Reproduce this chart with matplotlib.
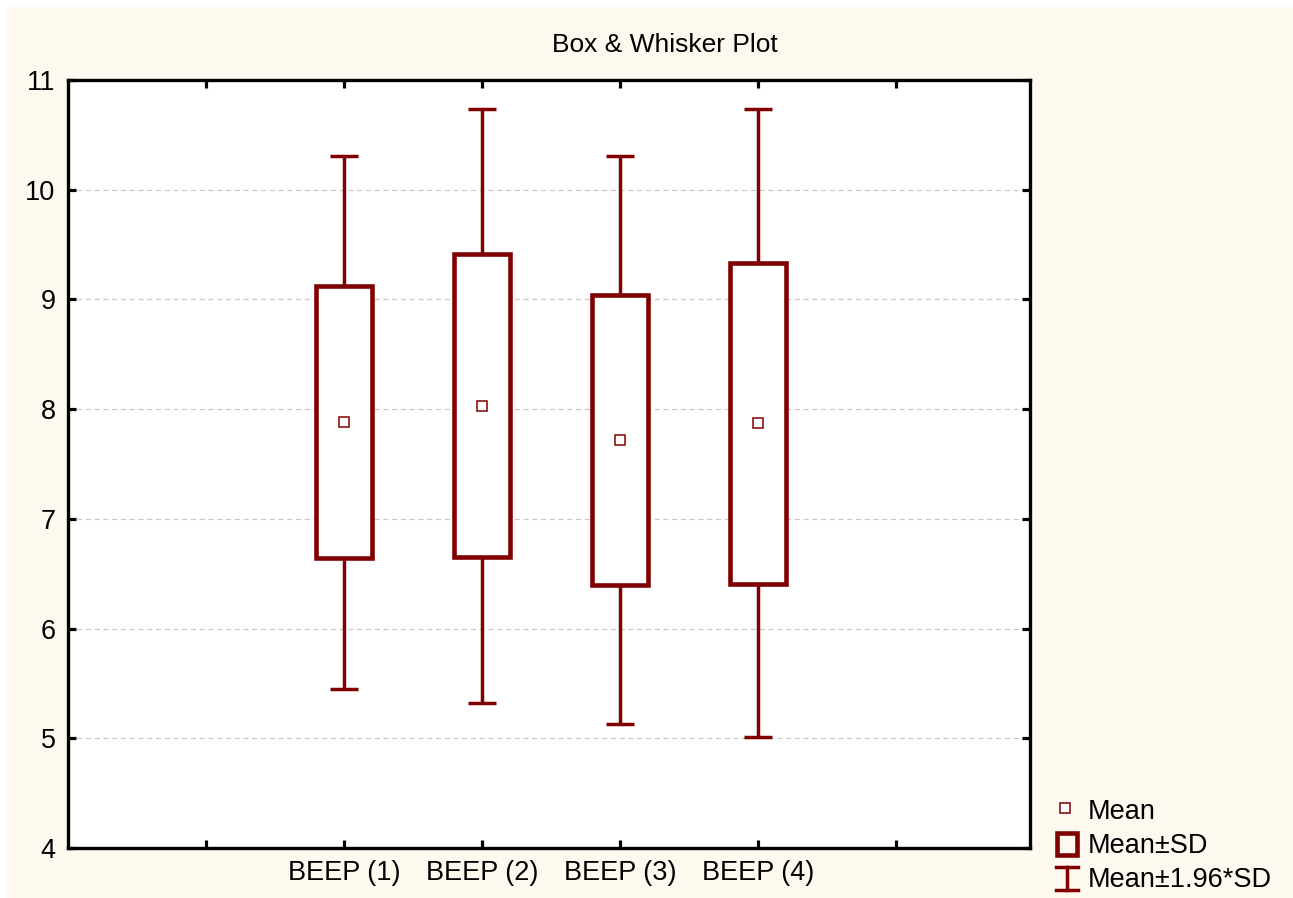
import matplotlib
matplotlib.use("Agg")
import matplotlib.pyplot as plt
from matplotlib.patches import Rectangle
from matplotlib.lines import Line2D

# Summary statistics per variable
categories = ["BEEP (1)", "BEEP (2)", "BEEP (3)", "BEEP (4)"]
means = [7.88, 8.03, 7.72, 7.87]
sds = [1.24, 1.38, 1.32, 1.46]
z_factor = 1.96

DARK_RED = "#800000"
CREAM = "#FDF9EF"
W, H, DPI = 1293, 898, 100

plt.rcParams["font.family"] = ["Liberation Sans", "DejaVu Sans"]

fig = plt.figure(figsize=(W / DPI, H / DPI), dpi=DPI, facecolor=CREAM)
ax = fig.add_axes([68 / W, 1 - 848 / H, (1030 - 68) / W, (848 - 80) / H])
ax.set_facecolor("white")

positions = list(range(1, len(categories) + 1))
box_w = 0.40
cap_w = 0.20
WH_LW = 2.5
BOX_LW = 3.3

for x, m, s in zip(positions, means, sds):
    lo_box, hi_box = m - s, m + s
    lo_wh, hi_wh = m - z_factor * s, m + z_factor * s
    # whiskers
    ax.plot([x, x], [hi_box, hi_wh], color=DARK_RED, lw=WH_LW, zorder=3,
            solid_capstyle="butt")
    ax.plot([x, x], [lo_wh, lo_box], color=DARK_RED, lw=WH_LW, zorder=3,
            solid_capstyle="butt")
    ax.plot([x - cap_w / 2, x + cap_w / 2], [hi_wh, hi_wh], color=DARK_RED,
            lw=WH_LW, zorder=3, solid_capstyle="butt")
    ax.plot([x - cap_w / 2, x + cap_w / 2], [lo_wh, lo_wh], color=DARK_RED,
            lw=WH_LW, zorder=3, solid_capstyle="butt")
    # box
    ax.add_patch(Rectangle((x - box_w / 2, lo_box), box_w, hi_box - lo_box,
                           facecolor="white", edgecolor=DARK_RED, lw=BOX_LW,
                           zorder=4, joinstyle="miter"))
    # mean marker
    ax.plot([x], [m], marker="s", ms=7.5, mfc="white", mec=DARK_RED, mew=1.1,
            zorder=5, linestyle="none")

ax.set_xlim(-1, 5.97)
ax.set_ylim(4, 11)
ax.set_xticks([0] + positions + [5])
ax.set_xticklabels([""] + categories + [""])
ax.set_yticks(range(4, 12))
ax.yaxis.grid(True, color="#C8C8C8", lw=0.9, linestyle=(0, (4, 3)))
ax.set_axisbelow(True)

for sp in ax.spines.values():
    sp.set_linewidth(2.4)
    sp.set_color("black")

ax.tick_params(direction="in", length=5.5, width=2.3, top=True, right=True,
               labelsize=19.5, colors="black", pad=9)

fig.text(665 / W, 1 - 45 / H, "Box & Whisker Plot", ha="center", va="center",
         fontsize=19, color="black")

# thin white margin along top and left edges
fig.patches.append(Rectangle((0, 1 - 7 / H), 1, 7 / H, transform=fig.transFigure,
                             facecolor="white", edgecolor="none", zorder=-1))
fig.patches.append(Rectangle((0, 0), 7 / W, 1, transform=fig.transFigure,
                             facecolor="white", edgecolor="none", zorder=-1))

# legend drawn in pixel space
lax = fig.add_axes([0, 0, 1, 1], facecolor="none")
lax.set_xlim(0, W)
lax.set_ylim(H, 0)
lax.axis("off")
lax.add_line(Line2D([1065], [808], marker="s", ms=7.5, mfc="white",
                    mec=DARK_RED, mew=1.1, linestyle="none"))
lax.add_patch(Rectangle((1057, 833), 20, 22, facecolor="none",
                        edgecolor=DARK_RED, lw=BOX_LW))
lax.add_line(Line2D([1067, 1067], [867, 890], color=DARK_RED, lw=WH_LW))
lax.add_line(Line2D([1056, 1078], [867, 867], color=DARK_RED, lw=WH_LW))
lax.add_line(Line2D([1056, 1078], [890, 890], color=DARK_RED, lw=WH_LW))
for ty, label in zip([812, 846, 880], ["Mean", "Mean±SD", "Mean±1.96*SD"]):
    lax.text(1088, ty, label, ha="left", va="center", fontsize=19.5,
             color="black")

fig.savefig("out.png", dpi=DPI, facecolor=CREAM)
